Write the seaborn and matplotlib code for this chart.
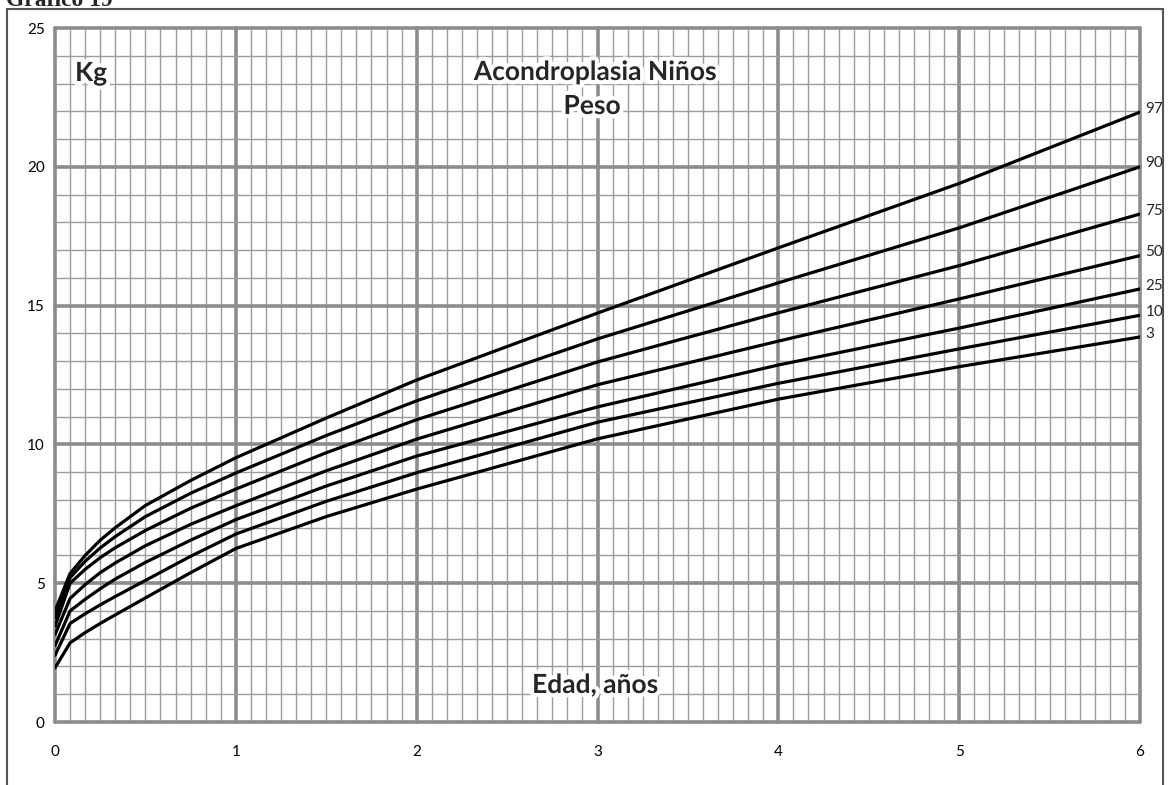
import pandas as pd
import matplotlib.pyplot as plt
import matplotlib.patheffects as pe
from matplotlib.patches import Rectangle
from matplotlib.ticker import MultipleLocator
import seaborn as sns

# Acondroplasia - niños - peso (kg) por edad (años)
edad = [0, 1/12, 1/6, 0.25, 1/3, 0.5, 0.75, 1, 1.5, 2, 3, 4, 5, 6]
p97 = [4.0, 5.35, 6.0, 6.55, 7.0, 7.8, 8.7, 9.52, 10.95, 12.32, 14.73, 17.08, 19.4, 21.97]
p90 = [3.75, 5.2, 5.79, 6.27, 6.68, 7.4, 8.24, 8.97, 10.32, 11.57, 13.8, 15.82, 17.8, 20.0]
p75 = [3.45, 5.0, 5.5, 5.92, 6.28, 6.9, 7.7, 8.39, 9.7, 10.89, 12.97, 14.74, 16.44, 18.3]
p50 = [3.15, 4.45, 4.95, 5.38, 5.73, 6.35, 7.12, 7.79, 9.05, 10.19, 12.15, 13.72, 15.24, 16.8]
p25 = [2.75, 4.0, 4.42, 4.8, 5.15, 5.75, 6.55, 7.29, 8.5, 9.58, 11.35, 12.86, 14.19, 15.6]
p10 = [2.4, 3.55, 3.9, 4.22, 4.52, 5.1, 5.97, 6.77, 7.95, 8.98, 10.8, 12.2, 13.44, 14.65]
p3 = [1.95, 2.85, 3.22, 3.55, 3.86, 4.47, 5.38, 6.25, 7.4, 8.39, 10.2, 11.63, 12.8, 13.87]

percentiles = ["97", "90", "75", "50", "25", "10", "3"]
series = [p97, p90, p75, p50, p25, p10, p3]

df = pd.concat(
    [pd.DataFrame({"edad": edad, "peso": s, "pct": p}) for p, s in zip(percentiles, series)],
    ignore_index=True,
)

sns.set_style("white")
plt.rcParams["font.family"] = ["Lato", "DejaVu Sans"]

W, H = 1168, 785
fig = plt.figure(figsize=(W / 100, H / 100), dpi=100)
ax = fig.add_axes([55 / W, 1 - 722 / H, 1085 / W, 694 / H])

sns.lineplot(data=df, x="edad", y="peso", hue="pct", palette=["black"] * 7,
             legend=False, lw=2.3, ax=ax, zorder=5)

ax.set_xlim(0, 6)
ax.set_ylim(0, 25)
ax.xaxis.set_major_locator(MultipleLocator(1))
ax.xaxis.set_minor_locator(MultipleLocator(1 / 12))
ax.yaxis.set_major_locator(MultipleLocator(5))
ax.yaxis.set_minor_locator(MultipleLocator(1))
ax.grid(which="major", color="#8c8c8c", lw=2.6)
ax.grid(which="minor", color="#9c9c9c", lw=1.0)
ax.set_axisbelow(True)
for line in ax.get_xgridlines() + ax.get_ygridlines():
    line.set_clip_on(False)
for s in ax.spines.values():
    s.set_visible(False)
ax.tick_params(which="major", length=3.5, width=2, color="#8c8c8c", labelsize=11,
               labelcolor="black")
ax.tick_params(axis="x", which="major", pad=13)
ax.tick_params(axis="y", which="major", pad=4)
ax.tick_params(which="minor", length=0)
ax.set_xlabel("")
ax.set_ylabel("")

# percentile labels at the right end of each curve
for p, s in zip(percentiles, series):
    ax.text(6.03, s[-1] + 0.12, p, fontsize=11, ha="left", va="center", clip_on=False)

halo = [pe.withStroke(linewidth=6, foreground="white")]
kw = dict(fontsize=19, fontweight="bold", ha="center", va="center", zorder=10,
          path_effects=halo)
fig.text(91 / W, 1 - 73 / H, "Kg", **kw)
fig.text(595 / W, 1 - 72 / H, "Acondroplasia Niños", **kw)
fig.text(592 / W, 1 - 106 / H, "Peso", **kw)
fig.text(595 / W, 1 - 685 / H, "Edad, años", **kw)

# outer frame and cut-off caption
fig.add_artist(Rectangle((7 / W, -0.05), (1163 - 7) / W, 0.05 + 1 - 9 / H,
                         transform=fig.transFigure, fill=False, ec="#555555", lw=1.5))
fig.text(6 / W, 1.0, "Gráfico 19", family=["Liberation Serif"], fontweight="bold",
         fontsize=17, ha="left", va="center")

fig.savefig("out.png", dpi=100)
